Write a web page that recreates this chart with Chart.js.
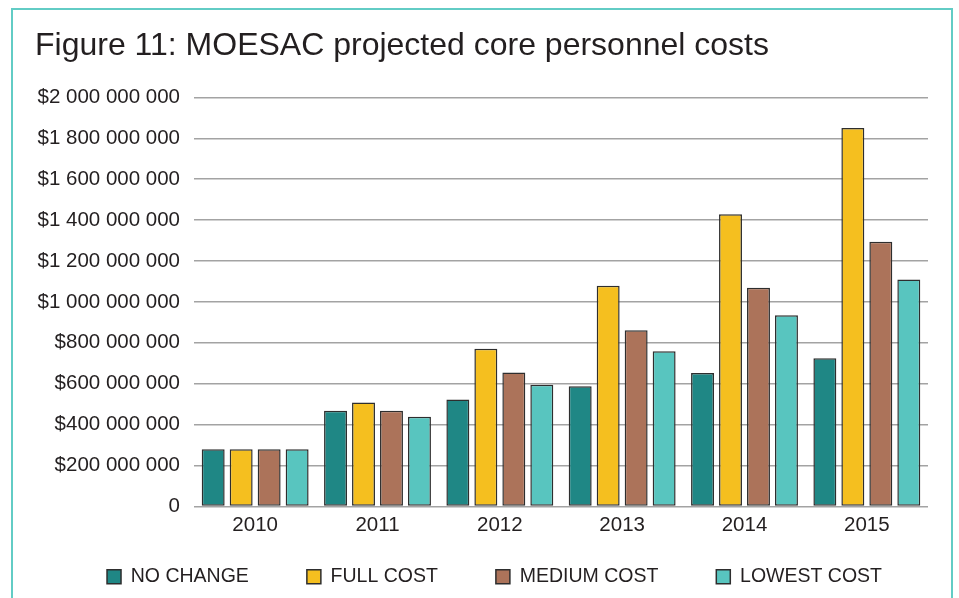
<!DOCTYPE html>
<html>
<head>
<meta charset="utf-8">
<title>MOESAC projected core personnel costs</title>
<script src="https://cdn.jsdelivr.net/npm/chart.js@4.4.0/dist/chart.umd.min.js"></script>
<style>
    body { margin: 0; background: #fff; }
    #wrap { position: relative; width: 959px; height: 598px; overflow: hidden; }
    #frame {
        position: absolute; left: 11px; top: 8px; width: 938px; height: 620px;
        border: 2px solid #62ccc5; pointer-events: none;
    }
    canvas { position: absolute; left: 0; top: 0; }
</style>
</head>
<body>
<div id="wrap">
    <canvas id="chart" width="959" height="598"></canvas>
    <div id="frame"></div>
</div>
<script>
// Donnees
const years = ['2010', '2011', '2012', '2013', '2014', '2015'];
const noChange   = [280000000, 468000000, 523000000, 587000000, 652000000, 724000000];
const fullCost   = [280000000, 508000000, 771000000, 1079000000, 1428000000, 1850000000];
const mediumCost = [280000000, 468000000, 655000000, 861000000, 1069000000, 1294000000];
const lowestCost = [280000000, 438000000, 595000000, 759000000, 935000000, 1109000000];
const yTickLabels = ['0', '$200 000 000', '$400 000 000', '$600 000 000', '$800 000 000',
    '$1 000 000 000', '$1 200 000 000', '$1 400 000 000', '$1 600 000 000',
    '$1 800 000 000', '$2 000 000 000'];

const textColor = '#231f20';
const fontFamily = '"Liberation Sans", Arial, Helvetica, sans-serif';

function makeDataset(label, data, color) {
    return {
        label: label,
        data: data,
        backgroundColor: color,
        borderColor: '#2e2e2e',
        borderWidth: 1.5,
        borderSkipped: false,
        categoryPercentage: 0.915,
        barPercentage: 0.82
    };
}

// Remonte le haut de la legende (grand ecart entre items sans ecraser la zone du graphique)
const legendNudge = {
    id: 'legendNudge',
    afterLayout(chart) {
        const lg = chart.legend;
        if (!lg) return;
        lg.top -= 36;
        lg.left += 13;
        lg.right += 13;
    }
};

const ctx = document.getElementById('chart').getContext('2d');
new Chart(ctx, {
    type: 'bar',
    data: {
        labels: years,
        datasets: [
            makeDataset('NO CHANGE', noChange, '#1f8785'),
            makeDataset('FULL COST', fullCost, '#f5bf1f'),
            makeDataset('MEDIUM COST', mediumCost, '#ac735a'),
            makeDataset('LOWEST COST', lowestCost, '#58c5bf')
        ]
    },
    options: {
        responsive: false,
        animation: false,
        layout: {
            padding: { left: 35, right: 31, top: 10, bottom: 0 }
        },
        plugins: {
            title: {
                display: true,
                text: 'Figure 11: MOESAC projected core personnel costs',
                align: 'start',
                color: textColor,
                font: { family: fontFamily, size: 32, weight: 'normal' },
                padding: { top: 17, bottom: 32 }
            },
            legend: {
                position: 'bottom',
                maxHeight: 53,
                labels: {
                    color: textColor,
                    boxWidth: 14,
                    boxHeight: 14,
                    padding: 58,
                    font: { family: fontFamily, size: 19.5 }
                }
            },
            tooltip: { enabled: false }
        },
        scales: {
            x: {
                grid: { display: false, drawTicks: false },
                border: { display: false },
                ticks: {
                    color: textColor,
                    padding: 7,
                    font: { family: fontFamily, size: 20.5 }
                }
            },
            y: {
                min: 0,
                max: 2000000000,
                grid: { color: '#a3a3a3', lineWidth: 1.5, drawTicks: false },
                border: { display: false },
                afterFit: function(scale) {
                    scale.width = 159;
                },
                ticks: {
                    stepSize: 200000000,
                    color: textColor,
                    padding: 14,
                    font: { family: fontFamily, size: 20.5 },
                    callback: function(value, index) {
                        return yTickLabels[index];
                    }
                }
            }
        }
    },
    plugins: [legendNudge]
});
</script>
</body>
</html>
